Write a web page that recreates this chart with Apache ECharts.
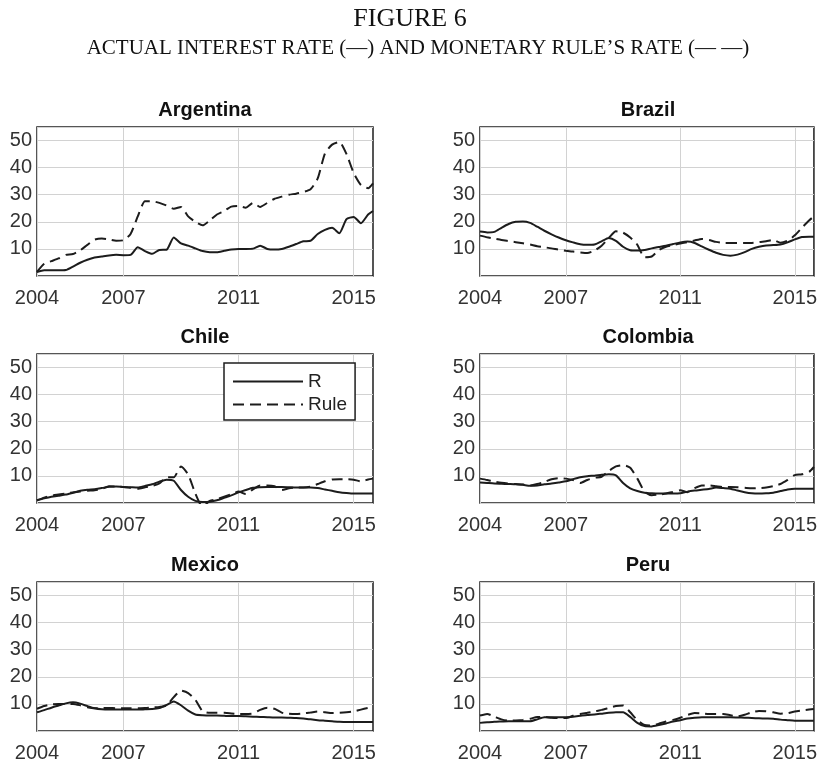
<!DOCTYPE html>
<html>
<head>
<meta charset="utf-8">
<script src="https://cdn.jsdelivr.net/npm/echarts@6/dist/echarts.min.js"></script>
<style>
html,body{margin:0;padding:0;background:#fff;}
#chart{width:820px;height:763px;}
</style>
</head>
<body>
<div id="chart"></div>
<script>
// ---- Data ----
const dates = [
  2004.00, 2004.25, 2004.50, 2004.75,
  2005.00, 2005.25, 2005.50, 2005.75,
  2006.00, 2006.25, 2006.50, 2006.75,
  2007.00, 2007.25, 2007.50, 2007.75,
  2008.00, 2008.25, 2008.50, 2008.75,
  2009.00, 2009.25, 2009.50, 2009.75,
  2010.00, 2010.25, 2010.50, 2010.75,
  2011.00, 2011.25, 2011.50, 2011.75,
  2012.00, 2012.25, 2012.50, 2012.75,
  2013.00, 2013.25, 2013.50, 2013.75,
  2014.00, 2014.25, 2014.50, 2014.75,
  2015.00, 2015.25, 2015.50, 2015.67
];
const countries = ['Argentina', 'Brazil', 'Chile', 'Colombia', 'Mexico', 'Peru'];
const xTickYears = [2004, 2007, 2011, 2015];
const seriesNames = ['R', 'Rule'];

const argentinaR = [1.5,2.1,2.1,2.1, 2.2,3.5,4.9,6.0, 6.8,7.2,7.6,7.8, 7.7,7.8,10.6,9.2, 8.2,9.6,9.7,14.2, 12.0,11.2,10.2,9.2, 8.8,8.8,9.3,9.8, 10.0,10.0,10.1,11.2, 10.0,9.8,10.0,10.8, 11.8,12.8,13.0,15.5, 17.0,17.8,15.8,21.0, 21.8,19.5,22.7,24.0];
const argentinaRule = [1.5,4.5,5.5,6.5, 7.8,8.1,9.5,11.5, 13.4,13.8,13.5,13.0, 13.2,15.5,22.0,27.6, 27.6,27.0,26.0,24.8, 25.5,22.0,20.0,18.7, 20.5,22.7,24.0,25.6, 25.8,25.2,27.0,25.5, 27.0,28.5,29.3,30.0, 30.4,31.0,32.0,36.0, 45.2,48.5,49.5,45.0, 38.0,33.6,32.4,34.2];

const brazilR = [16.4,16.1,16.3,17.8, 19.2,20.0,20.1,19.6, 18.2,16.7,15.4,14.2, 13.2,12.4,11.7,11.5, 11.6,12.8,14.0,13.0, 10.8,9.5,9.4,9.6, 10.2,10.7,11.2,11.8, 12.4,12.7,12.2,10.9, 9.7,8.6,7.8,7.5, 7.9,8.8,10.0,10.8, 11.3,11.4,11.6,12.4, 13.5,14.4,14.5,14.5];
const brazilRule = [14.9,14.3,13.8,13.3, 12.9,12.5,12.1,11.6, 11.0,10.6,10.2,9.7, 9.3,9.0,8.7,8.5, 9.4,11.2,14.0,16.5, 16.0,14.2,11.5,6.9, 7.2,9.6,10.8,11.4, 12.0,12.5,13.1,13.7, 13.3,12.6,12.2,12.2, 12.2,12.2,12.2,12.5, 12.8,13.3,12.3,13.0, 15.0,17.8,20.5,22.0];

const chileR = [1.0,1.7,2.3,2.7, 3.1,3.8,4.5,4.9, 5.1,5.5,6.0,6.1, 5.9,5.8,5.7,6.3, 6.9,7.9,8.6,8.2, 4.8,2.3,0.8,0.4, 0.5,1.0,1.9,2.8, 3.9,4.8,5.6,5.8, 5.9,5.9,5.9,5.8, 5.7,5.7,5.7,5.5, 5.0,4.5,4.0,3.7, 3.5,3.5,3.5,3.5];
const chileRule = [1.0,2.0,2.7,3.1, 3.5,3.9,4.2,4.5, 4.7,5.2,6.2,6.1, 5.9,5.6,5.3,5.8, 6.3,7.2,9.5,9.5, 13.5,10.5,3.5,-1.5, 0.8,1.4,2.3,3.2, 4.2,3.3,5.0,6.5, 6.5,6.2,4.8,5.4, 5.7,5.7,6.0,7.0, 8.0,8.7,8.8,8.8, 8.6,8.0,8.7,9.0];

const colombiaR = [7.6,7.4,7.2,7.1, 7.0,6.9,6.7,6.4, 6.5,6.9,7.2,7.6, 8.0,8.8,9.5,9.9, 10.1,10.4,10.6,10.2, 7.4,5.4,4.4,3.8, 3.6,3.5,3.5,3.5, 3.6,4.2,4.6,4.9, 5.2,5.7,5.5,5.3, 4.6,4.0,3.6,3.5, 3.6,3.8,4.4,5.0, 5.3,5.3,5.3,5.3];
const colombiaRule = [9.0,8.5,7.9,7.5, 7.2,7.0,6.8,6.5, 7.0,7.8,8.8,9.2, 9.0,8.5,7.4,8.5, 9.3,9.7,11.8,13.5, 14.0,13.0,9.0,4.2, 2.9,3.1,3.5,4.1, 4.7,4.0,5.5,6.5, 6.5,6.2,5.9,5.9, 5.8,5.6,5.4,5.5, 5.7,6.2,7.0,8.5, 10.3,10.6,11.5,13.3];

const mexicoR = [6.9,7.7,8.6,9.4, 10.2,10.6,10.1,9.2, 8.4,8.0,7.9,7.9, 7.9,7.9,7.9,8.0, 8.1,8.5,9.6,10.9, 9.5,7.5,6.1,5.8, 5.7,5.7,5.6,5.5, 5.5,5.4,5.3,5.2, 5.1,5.0,5.0,4.9, 4.8,4.6,4.3,4.0, 3.8,3.6,3.4,3.3, 3.3,3.3,3.3,3.3];
const mexicoRule = [8.2,9.2,9.8,10.0, 10.0,10.0,9.5,8.8, 8.4,8.5,8.5,8.4, 8.4,8.4,8.4,8.5, 8.7,8.9,9.4,12.5, 14.9,14.0,11.5,7.3, 6.7,6.7,6.7,6.5, 6.3,6.3,6.5,7.8, 8.6,8.2,6.8,6.4, 6.3,6.5,6.8,7.2, 6.9,6.6,6.7,6.9, 7.2,7.9,8.5,8.8];

const peruR = [3.0,3.2,3.4,3.5, 3.6,3.6,3.6,3.6, 4.3,5.1,5.1,5.1, 5.1,5.3,5.6,5.9, 6.1,6.4,6.7,6.9, 6.9,5.2,3.0,1.8, 1.7,2.2,2.8,3.5, 4.0,4.6,4.9,5.1, 5.1,5.1,5.1,5.1, 5.0,4.9,4.8,4.7, 4.6,4.5,4.2,4.0, 3.8,3.8,3.8,3.8];
const peruRule = [5.7,6.3,5.3,4.3, 3.8,3.9,4.1,4.5, 5.2,5.2,4.9,4.8, 4.8,5.6,6.3,6.7, 7.2,7.8,8.5,9.2, 9.4,6.9,4.0,2.2, 2.0,2.7,3.5,4.1, 4.9,5.9,6.6,6.5, 6.3,6.3,6.3,5.8, 5.4,6.0,6.9,7.4, 7.3,6.9,6.4,6.6, 7.2,7.6,7.9,8.1];

const panelData = [
  [argentinaR, argentinaRule],
  [brazilR, brazilRule],
  [chileR, chileRule],
  [colombiaR, colombiaRule],
  [mexicoR, mexicoRule],
  [peruR, peruRule]
];

// ---- Layout ----
const colLeft = [37, 480];
const rowTop = [127, 354, 582];
const plotW = 336, plotH = 149;
const lineColor = '#1c1c1c';
const gridColor = '#d2d2d2';
const labelColor = '#333';
const sans = '"Liberation Sans", Arial, sans-serif';
const serif = '"Liberation Serif", "Times New Roman", serif';

const grids = [], xAxes = [], yAxes = [], series = [], graphics = [];

countries.forEach((name, i) => {
  const col = i % 2, row = Math.floor(i / 2);
  const left = colLeft[col], top = rowTop[row];
  grids.push({
    left: left, top: top, width: plotW, height: plotH,
    show: true, borderColor: '#1e1e1e', borderWidth: 1.5, backgroundColor: '#fff'
  });
  xAxes.push({
    type: 'value', gridIndex: i,
    min: dates[0], max: dates[dates.length - 1],
    axisLine: { show: false },
    axisTick: { show: false, customValues: xTickYears },
    axisLabel: { customValues: xTickYears, fontSize: 20, color: labelColor, margin: 12, fontFamily: sans,
                 formatter: v => String(Math.round(v)) },
    splitLine: { show: true, lineStyle: { color: gridColor, width: 1 } }
  });
  yAxes.push({
    type: 'value', gridIndex: i, min: 0, max: 55, interval: 10,
    axisLine: { show: false },
    axisTick: { show: false },
    axisLabel: { fontSize: 20, color: labelColor, margin: 5, fontFamily: sans,
                 formatter: v => (v === 0 ? '' : String(v)) },
    splitLine: { show: true, lineStyle: { color: gridColor, width: 1 } }
  });
  panelData[i].forEach((vals, k) => {
    series.push({
      name: seriesNames[k], type: 'line', xAxisIndex: i, yAxisIndex: i,
      data: dates.map((d, j) => [d, vals[j]]),
      symbol: 'none', showSymbol: false, smooth: 0.2,
      clip: true,
      lineStyle: { color: lineColor, width: 2, type: k === 0 ? 'solid' : [11, 6] },
      itemStyle: { color: lineColor },
      z: 3
    });
  });
  graphics.push({
    type: 'text', x: left + plotW / 2, y: top - 17,
    style: { text: name, font: 'bold 20px ' + sans, fill: '#111',
             align: 'center', verticalAlign: 'middle', textAlign: 'center', textVerticalAlign: 'middle' }
  });
});

graphics.push({
  type: 'text', x: 410, y: 19,
  style: { text: 'FIGURE 6', font: '26px ' + serif, fill: '#111',
           align: 'center', verticalAlign: 'middle', textAlign: 'center', textVerticalAlign: 'middle' }
});
graphics.push({
  type: 'text', x: 418, y: 48,
  style: { text: 'ACTUAL INTEREST RATE (—) AND MONETARY RULE’S RATE (— —)',
           font: '21px ' + serif, fill: '#111',
           align: 'center', verticalAlign: 'middle', textAlign: 'center', textVerticalAlign: 'middle' }
});

const chart = echarts.init(document.getElementById('chart'), null, { renderer: 'canvas' });
chart.setOption({
  animation: false,
  backgroundColor: '#fff',
  grid: grids,
  xAxis: xAxes,
  yAxis: yAxes,
  series: series,
  graphic: graphics,
  legend: {
    data: seriesNames,
    orient: 'vertical',
    left: 224, top: 363,
    backgroundColor: '#fff',
    borderColor: '#1e1e1e', borderWidth: 1.5,
    padding: [9, 8, 6, 8],
    itemWidth: 70, itemHeight: 14, itemGap: 4,
    itemStyle: { opacity: 0 },
    textStyle: { fontSize: 19, color: '#222', fontFamily: sans },
    selectedMode: false
  }
});
</script>
</body>
</html>
